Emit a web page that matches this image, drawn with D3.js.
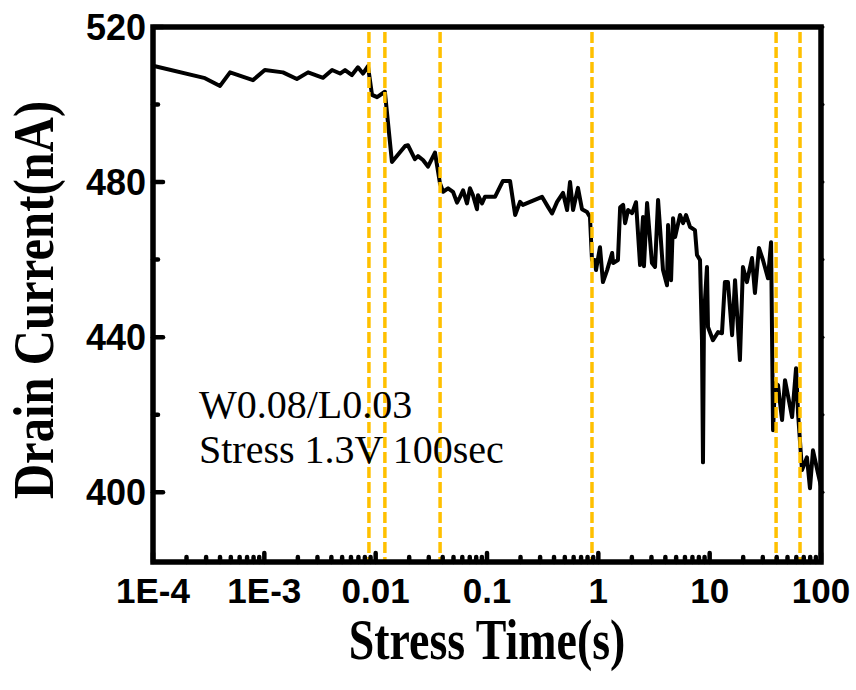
<!DOCTYPE html>
<html>
<head>
<meta charset="utf-8">
<script src="https://cdn.jsdelivr.net/npm/d3@7"></script>
<style>
  body { margin: 0; background: #fff; }
</style>
</head>
<body>
<script>
// Stress time (s) and drain current (nA)
const stressTime = [
  1.0e-4, 2.93e-4, 4.0e-4, 4.92e-4, 7.9e-4, 1.01e-3, 1.47e-3, 1.96e-3, 2.47e-3, 3.37e-3,
  4.06e-3, 4.79e-3, 5.31e-3, 6.12e-3, 6.93e-3, 7.69e-3, 8.53e-3, 9.27e-3, 1.03e-2, 1.21e-2,
  1.40e-2, 1.84e-2, 1.95e-2, 2.25e-2, 2.40e-2, 2.66e-2, 2.95e-2, 3.41e-2, 3.78e-2, 4.03e-2,
  4.47e-2, 4.95e-2, 5.38e-2, 5.73e-2, 6.10e-2, 6.61e-2, 7.03e-2, 7.48e-2, 8.13e-2, 8.30e-2,
  9.02e-2, 9.59e-2, 0.118, 0.139, 0.161, 0.179, 0.198, 0.210, 0.312, 0.353,
  0.384, 0.426, 0.482, 0.524, 0.557, 0.593, 0.656, 0.713, 0.791, 0.841,
  0.877, 0.933, 0.953, 1.035, 1.10, 1.20, 1.33, 1.36, 1.50, 1.57,
  1.67, 1.74, 1.85, 2.01, 2.18, 2.37, 2.52, 2.57, 2.74, 3.03,
  3.23, 3.44, 3.81, 4.14, 4.23, 4.50, 4.69, 4.89, 5.42, 5.77,
  6.14, 6.67, 7.38, 7.69, 8.19, 8.53, 8.71, 8.89, 9.46, 9.66,
  10.7, 11.9, 12.9, 13.7, 14.6, 15.9, 16.9, 18.7, 19.9, 21.6,
  24.0, 25.5, 27.7, 30.1, 33.4, 35.6, 37.1, 38.6, 41.1, 44.7,
  47.5, 55.0, 59.7, 62.2, 67.5, 74.8, 79.6, 84.7, 94.0, 100
];
const drainCurrent = [
  510.0, 506.8, 504.8, 508.3, 506.3, 508.9, 508.3, 506.6, 508.3, 506.9,
  508.9, 508.0, 508.9, 507.6, 509.6, 508.0, 509.9, 502.5, 501.9, 503.3,
  485.2, 489.3, 489.5, 485.9, 486.7, 485.7, 484.0, 487.6, 479.7, 477.5,
  478.4, 477.5, 474.7, 476.2, 477.9, 474.5, 478.4, 476.6, 473.0, 476.6,
  474.5, 476.2, 476.2, 480.3, 480.3, 471.5, 474.9, 474.1, 476.2, 473.6,
  471.9, 474.9, 477.2, 472.8, 480.0, 472.8, 478.5, 473.0, 472.3, 471.0,
  459.9, 459.9, 457.3, 463.2, 454.2, 457.3, 461.7, 459.1, 459.9, 473.5,
  474.1, 469.4, 472.8, 472.0, 474.8, 458.6, 471.0, 458.3, 474.6, 459.1,
  458.1, 475.4, 457.3, 453.4, 468.9, 454.7, 470.7, 465.8, 471.5, 469.4,
  471.5, 468.4, 467.6, 461.2, 459.9, 439.2, 407.7, 445.2, 458.1, 442.6,
  439.2, 441.3, 441.0, 454.2, 454.2, 440.5, 454.7, 434.1, 458.1, 454.2,
  460.4, 451.4, 463.0, 459.9, 455.2, 464.5, 416.0, 428.1, 427.6, 418.6,
  428.9, 419.4, 432.0, 420.4, 405.7, 409.0, 401.0, 410.8, 404.9, 401.5
];

// Vertical dashed markers (s)
const markerTimes = [0.0087, 0.0121, 0.0379, 0.877, 39.5, 64.8];

// Axis ticks
const xTickValues = [1e-4, 1e-3, 0.01, 0.1, 1, 10, 100];
const xTickLabels = ["1E-4", "1E-3", "0.01", "0.1", "1", "10", "100"];
const yTickValues = [400, 440, 480, 520];
const yMinorValues = [420, 460, 500];

const noteLines = ["W0.08/L0.03", "Stress 1.3V 100sec"];

const width = 856;
const height = 690;
const marginLeft = 153;
const marginRight = 35;
const marginTop = 27;
const marginBottom = 128;

const svg = d3.create("svg")
  .attr("width", width)
  .attr("height", height);

const xScale = d3.scaleLog()
  .domain([1e-4, 100])
  .range([marginLeft, width - marginRight]);

const yScale = d3.scaleLinear()
  .domain([382, 520])
  .range([height - marginBottom, marginTop]);

const data = stressTime.map((t, i) => ({ t: t, v: drainCurrent[i] }));

// data line
svg.append("path")
  .datum(data)
  .attr("fill", "none")
  .attr("stroke", "#000")
  .attr("stroke-width", 4)
  .attr("stroke-linejoin", "round")
  .attr("d", d3.line().x(d => xScale(d.t)).y(d => yScale(d.v)));

// dashed markers, over the data line
svg.selectAll("line.marker")
  .data(markerTimes)
  .join("line")
  .attr("class", "marker")
  .attr("x1", d => xScale(d))
  .attr("x2", d => xScale(d))
  .attr("y1", marginTop + 5)
  .attr("y2", height - marginBottom - 2)
  .attr("stroke", "#FFC000")
  .attr("stroke-width", 3.5)
  .attr("stroke-dasharray", "11,4");

// minor x ticks (2..9 per decade)
const xMinor = [];
[1e-4, 1e-3, 1e-2, 1e-1, 1, 10].forEach(d => {
  for (let k = 2; k <= 9; k++) xMinor.push(d * k);
});

const y0 = yScale.range()[0];
const tickG = svg.append("g")
  .attr("stroke", "#000")
  .attr("stroke-linecap", "round");

tickG.selectAll("line.xminor")
  .data(xMinor)
  .join("line")
  .attr("x1", d => xScale(d)).attr("x2", d => xScale(d))
  .attr("y1", y0).attr("y2", y0 - 5)
  .attr("stroke-width", 4.5);

tickG.selectAll("line.xmajor")
  .data(xTickValues)
  .join("line")
  .attr("x1", d => xScale(d)).attr("x2", d => xScale(d))
  .attr("y1", y0).attr("y2", y0 - 9)
  .attr("stroke-width", 4.5);

const xL = xScale.range()[0];
const xR = xScale.range()[1];

tickG.selectAll("line.ymajor")
  .data(yTickValues)
  .join("line")
  .attr("x1", xL).attr("x2", xL + 10)
  .attr("y1", d => yScale(d)).attr("y2", d => yScale(d))
  .attr("stroke-width", 4.5);

tickG.selectAll("line.yminor")
  .data(yMinorValues)
  .join("line")
  .attr("x1", xL).attr("x2", xL + 5)
  .attr("y1", d => yScale(d)).attr("y2", d => yScale(d))
  .attr("stroke-width", 4.5);

tickG.selectAll("line.yright")
  .data(yTickValues.concat(yMinorValues))
  .join("line")
  .attr("x1", xR).attr("x2", xR + 2)
  .attr("y1", d => yScale(d)).attr("y2", d => yScale(d))
  .attr("stroke-width", 3);

// frame
svg.append("rect")
  .attr("x", xL)
  .attr("y", marginTop)
  .attr("width", xR - xL)
  .attr("height", y0 - marginTop)
  .attr("fill", "none")
  .attr("stroke", "#000")
  .attr("stroke-width", 5.5);

// tick labels
svg.append("g")
  .selectAll("text")
  .data(xTickValues)
  .join("text")
  .attr("x", d => xScale(d))
  .attr("y", 603)
  .attr("text-anchor", "middle")
  .attr("font-family", "Liberation Sans, Arial, sans-serif")
  .attr("font-weight", "bold")
  .attr("font-size", 35)
  .text((d, i) => xTickLabels[i]);

svg.append("g")
  .selectAll("text")
  .data(yTickValues)
  .join("text")
  .attr("x", xL - 7)
  .attr("y", d => yScale(d) + 13)
  .attr("text-anchor", "end")
  .attr("font-family", "Liberation Sans, Arial, sans-serif")
  .attr("font-weight", "bold")
  .attr("font-size", 36)
  .text(d => d);

// axis titles
svg.append("text")
  .attr("transform", "translate(487,659) scale(0.82,1)")
  .attr("text-anchor", "middle")
  .attr("font-family", "Liberation Serif, Times New Roman, serif")
  .attr("font-weight", "bold")
  .attr("font-size", 56)
  .text("Stress Time(s)");

svg.append("text")
  .attr("transform", "translate(53,300) rotate(-90) scale(0.84,1)")
  .attr("text-anchor", "middle")
  .attr("font-family", "Liberation Serif, Times New Roman, serif")
  .attr("font-weight", "bold")
  .attr("font-size", 58)
  .text("Drain Current(nA)");

// note
svg.append("g")
  .selectAll("text")
  .data(noteLines)
  .join("text")
  .attr("x", 199)
  .attr("y", (d, i) => 418 + i * 45)
  .attr("font-family", "Liberation Serif, Times New Roman, serif")
  .attr("font-size", 40)
  .text(d => d);

document.body.appendChild(svg.node());
</script>
</body>
</html>
